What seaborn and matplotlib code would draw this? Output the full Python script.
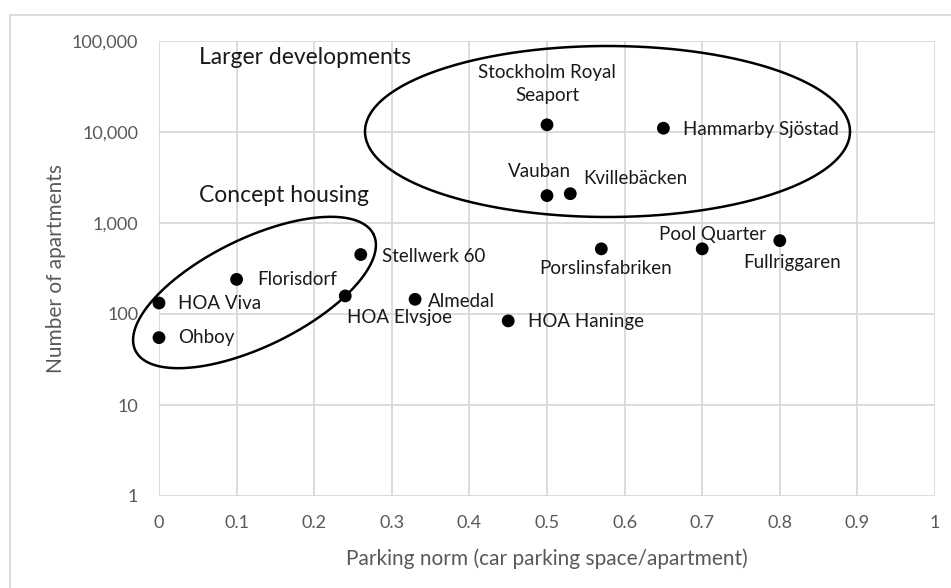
import numpy as np
import pandas as pd
import matplotlib
matplotlib.use("Agg")
import matplotlib.pyplot as plt
import matplotlib.ticker as mticker
import seaborn as sns

# ---- data ----
names = ["Stockholm Royal\nSeaport", "Hammarby Sjöstad", "Vauban", "Kvillebäcken",
         "Porslinsfabriken", "Pool Quarter", "Fullriggaren", "HOA Haninge",
         "Stellwerk 60", "Florisdorf", "Almedal", "HOA Viva", "HOA Elvsjoe", "Ohboy"]
parking = [0.50, 0.65, 0.50, 0.53, 0.57, 0.70, 0.80, 0.45, 0.26, 0.10, 0.33, 0.00, 0.24, 0.00]
apartments = [12000, 11000, 2000, 2100, 520, 520, 640, 84, 450, 240, 145, 132, 158, 55]

x_ticks = [0, 0.1, 0.2, 0.3, 0.4, 0.5, 0.6, 0.7, 0.8, 0.9, 1]
x_tick_labels = ["0", "0.1", "0.2", "0.3", "0.4", "0.5", "0.6", "0.7", "0.8", "0.9", "1"]
y_ticks = [1, 10, 100, 1000, 10000, 100000]

group_labels = ["Larger developments", "Concept housing"]

df = pd.DataFrame({"name": names, "parking": parking, "apartments": apartments})

# label offsets in pixels (dx, dy, ha)
label_offsets = {
    "Stockholm Royal\nSeaport": (0, 41, "center"),
    "Hammarby Sjöstad": (20, -1, "left"),
    "Vauban": (-8, 24, "center"),
    "Kvillebäcken": (13, 15, "left"),
    "Porslinsfabriken": (-62, -20, "left"),
    "Pool Quarter": (-43, 14, "left"),
    "Fullriggaren": (-37, -22, "left"),
    "HOA Haninge": (20, -1, "left"),
    "Stellwerk 60": (21, -2, "left"),
    "Florisdorf": (21, 0, "left"),
    "Almedal": (13, -2, "left"),
    "HOA Viva": (19, 0, "left"),
    "HOA Elvsjoe": (2, -22, "left"),
    "Ohboy": (19, 0, "left"),
}

sns.set_theme(style="white")
plt.rcParams["font.family"] = ["Lato", "DejaVu Sans"]

W, H = 951, 588
fig = plt.figure(figsize=(W / 100, H / 100), dpi=100)
ax_l, ax_r, ax_t, ax_b = 159, 935, 41, 496
ax = fig.add_axes([ax_l / W, (H - ax_b) / H, (ax_r - ax_l) / W, (ax_b - ax_t) / H])

sns.scatterplot(data=df, x="parking", y="apartments", ax=ax, color="black",
                s=85, edgecolor="none", zorder=5, clip_on=False)

ax.set_yscale("log")
ax.set_xlim(0, 1)
ax.set_ylim(1, 100000)
ax.set_xticks(x_ticks)
ax.set_xticklabels(x_tick_labels)
ax.set_yticks(y_ticks)
ax.yaxis.set_major_formatter(mticker.FuncFormatter(lambda v, p: f"{int(round(v)):,}"))
ax.yaxis.set_minor_locator(mticker.NullLocator())
ax.grid(True, which="major", color="#d9d9d9", linewidth=1.3)
for s in ax.spines.values():
    s.set_visible(False)
ax.tick_params(axis="both", length=0, colors="#595959", labelsize=13)
ax.tick_params(axis="x", pad=14)
ax.tick_params(axis="y", pad=15)
ax.set_xlabel("Parking norm (car parking space/apartment)", color="#595959", fontsize=15, labelpad=12)
ax.set_ylabel("Number of apartments", color="#595959", fontsize=15, labelpad=4.5)

for n, xv, yv in zip(names, parking, apartments):
    dx, dy, ha = label_offsets[n]
    ax.annotate(n, (xv, yv), xytext=(dx, dy), textcoords="offset pixels",
                ha=ha, va="center", fontsize=13.5, color="#1a1a1a",
                linespacing=1.45, zorder=6, annotation_clip=False)

# group titles (pixel positions)
fig.text(199 / W, 1 - 58 / H, group_labels[0], ha="left", va="center", fontsize=16.5, color="#1a1a1a")
fig.text(199 / W, 1 - 195 / H, group_labels[1], ha="left", va="center", fontsize=16.5, color="#1a1a1a")

# ellipses drawn in pixel space, converted to axes fraction
axw, axh = ax_r - ax_l, ax_b - ax_t
def draw_ellipse(cx, cy, a, b, ang_deg):
    t = np.linspace(0, 2 * np.pi, 400)
    th = np.deg2rad(ang_deg)
    px = cx + a * np.cos(t) * np.cos(th) - b * np.sin(t) * np.sin(th)
    py = cy + a * np.cos(t) * np.sin(th) + b * np.sin(t) * np.cos(th)
    ax.plot(px / axw, py / axh,
            transform=ax.transAxes, color="black", lw=1.8, clip_on=False, zorder=4)

# centers in pixel coords measured from axes bottom-left (y up)
draw_ellipse(607.5 - ax_l, ax_b - 131.5, 242.5, 85.5, 0)
draw_ellipse(254.5 - ax_l, ax_b - 292.5, 132.5, 54, 26)

# chart border
fig.add_artist(plt.Line2D([10 / W, 1], [1 - 15 / H, 1 - 15 / H], color="#d9d9d9", lw=1.3))
fig.add_artist(plt.Line2D([10 / W, 10 / W], [0, 1 - 15 / H], color="#d9d9d9", lw=1.3))

fig.savefig("out.png", dpi=100)
